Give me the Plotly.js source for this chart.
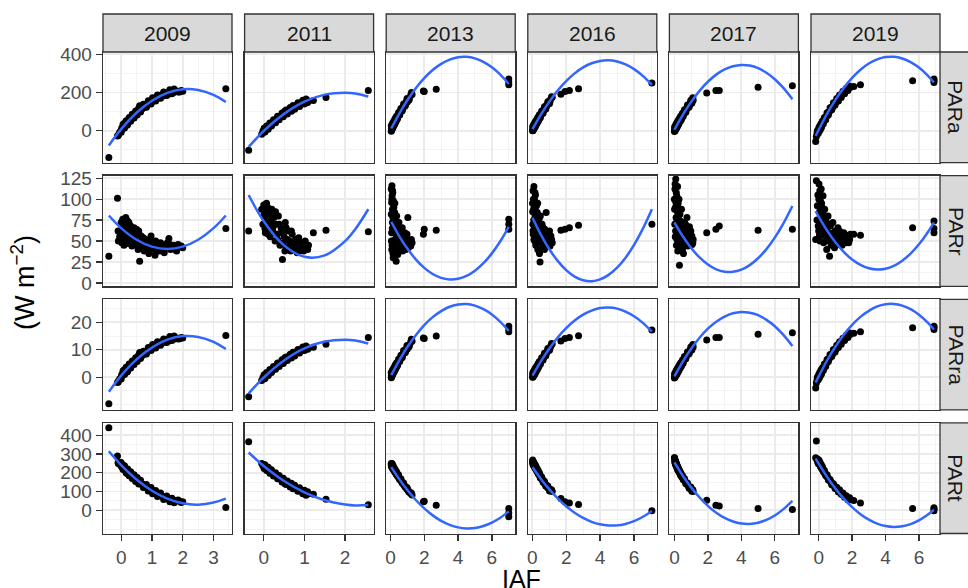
<!DOCTYPE html>
<html>
<head>
<meta charset="utf-8">
<script src="https://cdn.plot.ly/plotly-3.0.1.min.js"></script>
<style>html,body{margin:0;padding:0;background:#fff;}#chart{width:968px;height:588px;}</style>
</head>
<body>
<div id="chart"></div>
<script>
// ---------- categories ----------
const years = ['2009', '2011', '2013', '2016', '2017', '2019'];
const varNames = ['PARa', 'PARr', 'PARra', 'PARt'];

// ---------- observed points (IAF shared across the four variables of a year) ----------
const iaf2009 = [-0.4, -0.12, -0.09, 3.4, -0.1, -0.05, 0, 0.02, 0.03, 0.05, 0.07, 0.08, 0.1, 0.12, 0.13, 0.15, 0.17, 0.18, 0.2, 0.22, 0.23, 0.25, 0.28, 0.3, 0.32, 0.35, 0.38, 0.4, 0.45, 0.48, 0.5, 0.55, 0.58, 0.6, 0.65, 0.68, 0.7, 0.75, 0.78, 0.8, 0.85, 0.9, 0.95, 1.0, 1.05, 1.1, 1.15, 1.2, 1.25, 1.3, 1.35, 1.4, 1.45, 1.5, 1.55, 1.6, 1.7, 1.75, 1.8, 1.9, 2.0,
  0.0, 0.06, 0.11, 0.16, 0.21, 0.26, 0.31, 0.36, 0.42, 0.47, 0.52, 0.57, 0.63, 0.72, 0.82, 0.88, 0.97, 1.02, 1.12, 1.18, 1.28, 1.38, 1.48, 1.58, 1.65, 1.72, 1.85, 1.95, 0.09, 0.19];
const para2009 = [-140, -28, -22, 220, -25, -8, 2, 14, 8, 10, 18, 25, 20, 34, 28, 30, 36, 45, 38, 52, 46, 48, 55, 66, 58, 74, 70, 72, 90, 86, 88, 100, 100, 130, 110, 115, 125, 122, 128, 138, 135, 149, 146, 152, 165, 160, 166, 178, 175, 187, 182, 185, 190, 198, 192, 205, 200, 204, 208, 203, 207,
  -8, 33, 14, 52, 32, 69, 49, 86, 67, 103, 82, 118, 98, 138, 123, 157, 140, 172, 155, 187, 170, 202, 184, 214, 194, 218, 202, 210, 38, 28];
const parr2009 = [32, 101, 50, 65, 62, 55, 72, 48, 64, 76, 50, 60, 68, 52, 70, 78, 62, 58, 66, 47, 58, 72, 66, 55, 62, 44, 52, 60, 50, 46, 64, 40, 58, 26, 56, 50, 45, 38, 46, 52, 42, 35, 44, 50, 40, 33, 40, 46, 38, 42, 45, 36, 42, 48, 53, 40, 45, 40, 38, 44, 42,
  58, 70, 56, 66, 74, 52, 68, 58, 66, 55, 48, 62, 44, 54, 48, 40, 56, 45, 50, 42, 48, 40, 45, 46, 43, 42, 46, 44, 45, 50];
const parra2009 = [-9.7, -1.9, -1.5, 15.2, -1.7, -0.6, 0.1, 1.0, 0.6, 0.7, 1.2, 1.7, 1.4, 2.3, 1.9, 2.1, 2.5, 3.1, 2.6, 3.6, 3.2, 3.3, 3.8, 4.6, 4.0, 5.1, 4.8, 5.0, 6.2, 5.9, 6.1, 6.9, 6.9, 9.0, 7.6, 7.9, 8.6, 8.4, 8.8, 9.5, 9.3, 10.3, 10.1, 10.5, 11.4, 11.0, 11.4, 12.3, 12.1, 12.9, 12.6, 12.8, 13.1, 13.7, 13.2, 14.1, 13.8, 14.1, 14.3, 14.0, 14.3,
  -0.6, 2.3, 1.0, 3.6, 2.2, 4.8, 3.4, 5.9, 4.6, 7.1, 5.7, 8.1, 6.8, 9.5, 8.5, 10.8, 9.7, 11.9, 10.7, 12.9, 11.7, 13.9, 12.7, 14.8, 13.4, 15.0, 13.9, 14.5, 2.6, 1.9];
const part2009 = [440, 290, 250, 15, 255, 245, 238, 232, 240, 228, 233, 222, 226, 216, 221, 212, 216, 206, 210, 200, 206, 196, 198, 188, 192, 181, 183, 174, 172, 163, 165, 153, 155, 147, 145, 137, 139, 128, 130, 122, 121, 112, 110, 102, 100, 92, 90, 84, 82, 76, 74, 70, 66, 64, 60, 58, 54, 52, 50, 48, 46,
  255, 217, 236, 200, 220, 184, 205, 169, 189, 154, 175, 140, 160, 121, 137, 103, 121, 88, 106, 73, 92, 58, 76, 45, 64, 40, 55, 42, 239, 196];

const iaf2011 = [-0.37, 1.22, 1.53, 2.57, -0.05, -0.02, 0, 0.02, 0.04, 0.06, 0.08, 0.1, 0.12, 0.14, 0.16, 0.18, 0.2, 0.22, 0.25, 0.28, 0.3, 0.33, 0.36, 0.4, 0.43, 0.46, 0.5, 0.53, 0.56, 0.6, 0.63, 0.66, 0.7, 0.74, 0.78, 0.82, 0.86, 0.9, 0.94, 0.98, 1.02, 1.06, 1.1,
  0.01, 0.03, 0.07, 0.11, 0.15, 0.19, 0.24, 0.29, 0.34, 0.38, 0.45, 0.48, 0.55, 0.58, 0.65, 0.68, 0.72, 0.76, 0.84, 0.88, 0.96, 1.0, 1.04, 1.08, 0.52];
const para2011 = [-103, 158, 174, 210, -18, -2, -8, 6, 2, 14, 10, 22, 18, 30, 26, 37, 33, 45, 42, 56, 51, 64, 61, 76, 73, 86, 84, 97, 93, 107, 103, 116, 112, 126, 123, 136, 133, 145, 141, 152, 149, 158, 155,
  13, -7, 25, 8, 40, 24, 57, 42, 75, 57, 93, 73, 108, 88, 122, 102, 132, 112, 146, 127, 160, 140, 166, 148, 103];
const parr2011 = [62, 60, 63, 61, 88, 70, 93, 78, 60, 85, 72, 90, 65, 82, 55, 75, 88, 62, 78, 50, 70, 58, 80, 45, 65, 28, 55, 72, 42, 62, 50, 38, 58, 45, 52, 36, 54, 42, 48, 38, 50, 42, 45,
  82, 65, 95, 58, 72, 62, 68, 85, 52, 70, 60, 48, 66, 52, 45, 62, 48, 40, 48, 38, 44, 42, 46, 40, 38];
const parra2011 = [-7.1, 10.9, 12.0, 14.5, -1.2, -0.1, -0.6, 0.4, 0.1, 1.0, 0.7, 1.5, 1.2, 2.1, 1.8, 2.6, 2.3, 3.1, 2.9, 3.9, 3.5, 4.4, 4.2, 5.2, 5.0, 5.9, 5.8, 6.7, 6.4, 7.4, 7.1, 8.0, 7.7, 8.7, 8.5, 9.4, 9.2, 10.0, 9.7, 10.5, 10.3, 10.9, 10.7,
  0.9, -0.5, 1.7, 0.6, 2.8, 1.7, 3.9, 2.9, 5.2, 3.9, 6.4, 5.0, 7.4, 6.1, 8.4, 7.0, 9.1, 7.7, 10.1, 8.8, 11.0, 9.7, 11.4, 10.2, 7.1];
const part2011 = [365, 86, 59, 30, 250, 238, 244, 228, 234, 221, 227, 214, 219, 207, 212, 201, 205, 194, 197, 185, 189, 177, 180, 167, 170, 158, 159, 148, 151, 139, 142, 131, 132, 121, 122, 112, 113, 103, 104, 95, 95, 87, 88,
  223, 243, 212, 229, 198, 216, 183, 200, 168, 186, 151, 171, 137, 156, 124, 144, 115, 134, 101, 120, 88, 107, 80, 99, 141];

const iaf2013 = [1.03, 0.34, 1.95, 2.0, 2.71, 7.0, 7.0, 7.0, 0.05, 0.06, 0.07, 0.08, 0.09, 0.1, 0.11, 0.12, 0.14, 0.15, 0.16, 0.17, 0.19, 0.2, 0.22, 0.24, 0.25, 0.27, 0.3, 0.33, 0.35, 0.38, 0.4, 0.43, 0.46, 0.5, 0.53, 0.56, 0.6, 0.64, 0.68, 0.72, 0.76, 0.8, 0.85, 0.9, 0.95, 1.0, 1.06, 1.12, 1.2, 1.28,
  0.05, 0.07, 0.09, 0.1, 0.12, 0.13, 0.15, 0.18, 0.2, 0.23, 0.26, 0.28, 0.31, 0.34, 0.37, 0.42, 0.48, 0.55, 0.62, 0.7, 0.78, 0.88, 0.98, 1.1, 1.24];
const para2013 = [158, 60, 208, 205, 217, 270, 255, 240, -3, 10, 15, 18, 12, 24, 22, 20, 30, 25, 33, 36, 32, 42, 38, 44, 50, 46, 58, 55, 66, 62, 74, 70, 80, 84, 94, 90, 104, 102, 116, 114, 128, 126, 140, 138, 154, 150, 166, 168, 185, 190,
  24, 3, 31, 8, 36, 14, 41, 22, 49, 30, 60, 39, 68, 49, 77, 62, 95, 82, 116, 105, 140, 131, 168, 161, 200];
const parr2013 = [78, 26, 58, 64, 63, 76, 70, 64, 112, 50, 96, 40, 116, 104, 65, 88, 108, 78, 30, 98, 70, 90, 60, 36, 84, 52, 75, 46, 68, 40, 62, 34, 56, 72, 48, 64, 42, 58, 50, 38, 55, 45, 60, 40, 52, 46, 42, 50, 44, 48,
  82, 60, 100, 45, 72, 110, 35, 62, 80, 48, 95, 66, 42, 58, 80, 50, 64, 38, 52, 66, 48, 54, 58, 44, 52];
const parra2013 = [10.9, 4.1, 14.3, 14.1, 15.0, 18.6, 17.6, 16.6, -0.2, 0.7, 1.0, 1.2, 0.8, 1.7, 1.5, 1.4, 2.1, 1.7, 2.3, 2.5, 2.2, 2.9, 2.6, 3.0, 3.4, 3.2, 4.0, 3.8, 4.6, 4.3, 5.1, 4.8, 5.5, 5.8, 6.5, 6.2, 7.2, 7.0, 8.0, 7.9, 8.8, 8.7, 9.7, 9.5, 10.6, 10.3, 11.4, 11.6, 12.8, 13.1,
  1.7, 0.2, 2.1, 0.6, 2.5, 1.0, 2.8, 1.5, 3.4, 2.1, 4.1, 2.7, 4.7, 3.4, 5.3, 4.3, 6.6, 5.7, 8.0, 7.2, 9.7, 9.0, 11.6, 11.1, 13.8];
const part2013 = [108, 195, 46, 48, 27, 9, -14, -35, 250, 238, 245, 232, 240, 236, 228, 234, 226, 232, 222, 226, 218, 222, 212, 215, 208, 210, 203, 196, 198, 190, 188, 182, 180, 174, 168, 166, 160, 156, 150, 146, 140, 136, 128, 124, 116, 112, 104, 98, 90, 82,
  240, 233, 250, 228, 244, 224, 238, 216, 230, 210, 220, 204, 212, 194, 204, 184, 190, 166, 168, 146, 146, 124, 122, 98, 92];

const iaf2016 = [1.69, 1.93, 2.19, 2.73, 7.05, 0.02, 0.04, 0.05, 0.06, 0.08, 0.1, 0.11, 0.13, 0.15, 0.17, 0.19, 0.21, 0.23, 0.25, 0.28, 0.3, 0.33, 0.36, 0.4, 0.43, 0.46, 0.5, 0.54, 0.58, 0.62, 0.66, 0.7, 0.74, 0.78, 0.82, 0.86, 0.9, 0.95, 1.0, 1.05, 1.1, 1.18,
  0.03, 0.05, 0.07, 0.09, 0.1, 0.12, 0.14, 0.16, 0.18, 0.2, 0.22, 0.26, 0.29, 0.32, 0.35, 0.38, 0.42, 0.48, 0.56, 0.64, 0.72, 0.8, 0.92, 1.02, 1.14];
const para2016 = [191, 205, 210, 219, 250, 0, 12, 6, 18, 14, 24, 18, 30, 25, 36, 31, 42, 38, 48, 46, 56, 54, 65, 64, 76, 72, 86, 85, 98, 96, 109, 108, 120, 118, 131, 129, 141, 140, 154, 153, 167, 175,
  22, 1, 28, 8, 33, 13, 40, 19, 46, 25, 52, 35, 63, 44, 72, 53, 83, 68, 103, 91, 126, 113, 152, 142, 178];
const parr2016 = [63, 64, 66, 69, 70, 95, 70, 110, 58, 88, 115, 64, 100, 50, 80, 105, 45, 72, 92, 55, 84, 40, 68, 76, 35, 25, 62, 50, 70, 44, 58, 52, 64, 46, 84, 55, 48, 60, 50, 44, 56, 48,
  85, 62, 100, 75, 52, 92, 68, 108, 58, 86, 65, 78, 48, 95, 60, 72, 52, 80, 56, 66, 40, 60, 54, 62, 52];
const parra2016 = [13.2, 14.1, 14.5, 15.1, 17.2, 0, 0.8, 0.4, 1.2, 1.0, 1.7, 1.2, 2.1, 1.7, 2.5, 2.1, 2.9, 2.6, 3.3, 3.2, 3.9, 3.7, 4.5, 4.4, 5.2, 5.0, 5.9, 5.9, 6.8, 6.6, 7.5, 7.4, 8.3, 8.1, 9.0, 8.9, 9.7, 9.7, 10.6, 10.6, 11.5, 12.1,
  1.5, 0.1, 1.9, 0.6, 2.3, 0.9, 2.8, 1.3, 3.2, 1.7, 3.6, 2.4, 4.3, 3.0, 5.0, 3.7, 5.7, 4.7, 7.1, 6.3, 8.7, 7.8, 10.5, 9.8, 12.3];
const part2016 = [63, 45, 39, 31, -3, 262, 250, 256, 244, 250, 238, 246, 234, 240, 228, 234, 222, 228, 216, 218, 208, 210, 198, 196, 186, 188, 176, 174, 164, 163, 152, 150, 142, 140, 132, 130, 122, 120, 112, 112, 104, 100,
  268, 247, 259, 239, 252, 233, 246, 227, 241, 222, 234, 211, 222, 201, 212, 191, 200, 172, 177, 150, 155, 130, 130, 103, 110];

const iaf2017 = [1.93, 2.48, 2.68, 5.0, 7.05, 0, 0.02, 0.03, 0.05, 0.06, 0.08, 0.1, 0.12, 0.14, 0.16, 0.18, 0.2, 0.22, 0.25, 0.28, 0.3, 0.33, 0.36, 0.4, 0.43, 0.46, 0.5, 0.54, 0.58, 0.62, 0.66, 0.7, 0.75, 0.8, 0.85, 0.9, 0.95, 1.0, 1.06, 1.12,
  0.01, 0.04, 0.07, 0.09, 0.11, 0.13, 0.15, 0.17, 0.19, 0.21, 0.24, 0.27, 0.31, 0.35, 0.38, 0.42, 0.48, 0.52, 0.6, 0.68, 0.78, 0.88, 0.98, 1.04, 1.1];
const para2017 = [197, 210, 210, 228, 235, -4, 6, 2, 14, 10, 20, 16, 27, 23, 33, 30, 40, 36, 48, 46, 56, 53, 65, 64, 76, 73, 86, 85, 97, 96, 108, 107, 121, 120, 134, 133, 146, 146, 158, 160,
  19, 0, 28, 8, 35, 14, 42, 21, 48, 27, 56, 36, 67, 49, 77, 59, 92, 74, 110, 97, 134, 124, 160, 144, 172];
const parr2017 = [60, 64, 68, 63, 64, 100, 70, 112, 55, 90, 124, 78, 45, 104, 62, 85, 38, 95, 68, 50, 21, 82, 58, 42, 72, 54, 65, 35, 60, 48, 70, 52, 78, 44, 58, 67, 50, 55, 46, 52,
  88, 118, 62, 96, 108, 72, 52, 90, 115, 60, 80, 100, 48, 74, 62, 88, 40, 58, 72, 45, 62, 55, 62, 56, 48];
const parra2017 = [13.6, 14.5, 14.5, 15.7, 16.2, -0.3, 0.4, 0.1, 1.0, 0.7, 1.4, 1.1, 1.9, 1.6, 2.3, 2.1, 2.8, 2.5, 3.3, 3.2, 3.9, 3.7, 4.5, 4.4, 5.2, 5.0, 5.9, 5.9, 6.7, 6.6, 7.4, 7.4, 8.3, 8.3, 9.2, 9.2, 10.1, 10.1, 10.9, 11.0,
  1.3, 0.0, 1.9, 0.6, 2.4, 1.0, 2.9, 1.4, 3.3, 1.9, 3.9, 2.5, 4.6, 3.4, 5.3, 4.1, 6.3, 5.1, 7.6, 6.7, 9.2, 8.6, 11.0, 9.9, 11.9];
const part2017 = [54, 27, 23, 9, 4, 280, 262, 270, 250, 262, 242, 252, 236, 240, 228, 232, 220, 224, 212, 210, 204, 200, 194, 188, 184, 178, 174, 167, 164, 156, 152, 146, 140, 134, 128, 122, 116, 112, 106, 100,
  280, 254, 263, 242, 252, 232, 242, 222, 234, 214, 224, 204, 212, 190, 200, 180, 186, 164, 170, 142, 146, 118, 124, 102, 110];

const iaf2019 = [-0.18, -0.14, 2.1, 2.5, 5.62, 6.9, 6.9, 6.9, -0.1, -0.05, 0, 0.02, 0.05, 0.08, 0.1, 0.12, 0.15, 0.18, 0.2, 0.23, 0.26, 0.3, 0.33, 0.36, 0.4, 0.44, 0.48, 0.52, 0.56, 0.6, 0.65, 0.7, 0.75, 0.8, 0.85, 0.9, 0.95, 1.0, 1.05, 1.1, 1.15, 1.2, 1.3, 1.4, 1.5, 1.6, 1.7, 1.8, 1.9,
  -0.08, -0.03, 0.01, 0.04, 0.07, 0.11, 0.14, 0.17, 0.22, 0.28, 0.34, 0.42, 0.5, 0.58, 0.68, 0.78, 0.88, 0.98, 1.08, 1.18, 1.25, 1.35, 1.45, 1.55, 1.65, 1.75, 1.85];
const para2019 = [-56, -30, 232, 240, 261, 270, 262, 252, -15, -5, 2, 10, 6, 18, 14, 26, 24, 36, 33, 44, 44, 56, 54, 65, 64, 76, 76, 88, 86, 98, 100, 112, 112, 125, 124, 136, 136, 148, 150, 160, 162, 172, 180, 192, 200, 210, 215, 224, 228,
  0, -15, 16, -3, 26, 8, 37, 18, 50, 36, 69, 57, 94, 82, 120, 110, 146, 134, 169, 156, 187, 174, 206, 194, 222, 210, 234];
const parr2019 = [52, 122, 58, 57, 66, 74, 65, 60, 75, 105, 62, 118, 85, 50, 98, 70, 112, 58, 90, 78, 104, 48, 66, 88, 56, 74, 40, 62, 80, 50, 32, 68, 45, 58, 72, 52, 42, 62, 55, 48, 66, 52, 58, 45, 60, 50, 56, 48, 58,
  92, 68, 100, 56, 110, 82, 64, 95, 70, 82, 60, 78, 52, 70, 58, 50, 60, 52, 58, 46, 62, 52, 55, 58, 48, 55, 52];
const parra2019 = [-3.9, -2.1, 16.0, 16.6, 18.0, 18.6, 18.1, 17.4, -1.0, -0.3, 0.1, 0.7, 0.4, 1.2, 1.0, 1.8, 1.7, 2.5, 2.3, 3.0, 3.0, 3.9, 3.7, 4.5, 4.4, 5.2, 5.2, 6.1, 5.9, 6.8, 6.9, 7.7, 7.7, 8.6, 8.6, 9.4, 9.4, 10.2, 10.3, 11.0, 11.2, 11.9, 12.4, 13.2, 13.8, 14.5, 14.8, 15.4, 15.7,
  0, -1.0, 1.1, -0.2, 1.8, 0.6, 2.6, 1.2, 3.4, 2.5, 4.8, 3.9, 6.5, 5.7, 8.3, 7.6, 10.1, 9.2, 11.7, 10.8, 12.9, 12.0, 14.2, 13.4, 15.3, 14.5, 16.1];
const part2019 = [280, 370, 52, 39, 9, 14, 5, -2, 268, 258, 264, 250, 255, 240, 246, 232, 236, 224, 228, 216, 218, 206, 206, 196, 196, 186, 184, 176, 174, 166, 162, 154, 150, 142, 140, 132, 130, 122, 120, 112, 110, 104, 96, 86, 80, 72, 66, 60, 56,
  274, 250, 268, 247, 258, 235, 246, 225, 233, 207, 213, 185, 189, 161, 164, 136, 142, 116, 123, 98, 109, 85, 92, 69, 78, 56, 67];

// ---------- fitted quadratic curves ----------
const fitX2009 = [-0.4, 0, 0.5, 1, 1.5, 2, 2.5, 3, 3.4];
const fitPARa2009 = [-77, 8, 94, 157, 198, 217, 213, 187, 150];
const fitPARr2009 = [80.5, 65.4, 51.6, 43.3, 40.5, 43.3, 51.6, 65.4, 80.5];
const fitPARra2009 = [-5.3, 0.6, 6.5, 10.8, 13.7, 15.0, 14.7, 12.9, 10.3];
const fitPARt2009 = [315, 241, 164, 104, 62, 37, 30, 41, 62];

const fitX2011 = [-0.37, 0, 0.5, 1, 1.5, 2, 2.25, 2.57];
const fitPARa2011 = [-85, -1.5, 88, 152, 189, 199, 195, 179];
const fitPARr2011 = [105, 73.7, 44.8, 31.2, 32.9, 49.9, 64.2, 88];
const fitPARra2011 = [-5.9, -0.1, 6.1, 10.5, 13.0, 13.7, 13.4, 12.3];
const fitPARt2011 = [308, 236, 156, 95, 53, 31, 26, 28];

const fitX2013 = [0.05, 0.5, 1, 1.5, 2, 2.5, 3, 3.5, 4, 4.5, 5, 5.5, 6, 6.5, 7];
const fitPARa2013 = [11.7, 86, 159.2, 222.2, 274.9, 317.5, 350, 372.4, 384.5, 386.5, 378.4, 360.2, 331.7, 293.2, 244.4];
const fitPARr2013 = [73, 56.6, 41, 28.2, 18, 10.7, 6, 4.1, 4.9, 8.4, 14.6, 23.6, 35.3, 49.8, 67];
const fitPARra2013 = [0.8, 5.9, 11.0, 15.3, 19.0, 21.9, 24.1, 25.7, 26.5, 26.7, 26.1, 24.8, 22.9, 20.2, 16.9];
const fitPARt2013 = [230, 168.6, 107.8, 54.8, 9.8, -27.3, -56.6, -77.9, -91.3, -96.8, -94.5, -84.2, -66, -40, -6];

const fitX2016 = [0.02, 0.5, 1, 1.5, 2, 2.5, 3, 3.5, 4, 4.5, 5, 5.5, 6, 6.5, 7.05];
const fitPARa2016 = [8.3, 82.6, 150.9, 209.9, 259.6, 300, 331.1, 352.9, 365.4, 368.6, 362.5, 347.1, 322.4, 288.4, 240.2];
const fitPARr2016 = [77.9, 58, 40.5, 26.3, 15.3, 7.6, 3.2, 2.0, 4.2, 9.6, 18.2, 30.2, 45.4, 63.9, 88];
const fitPARra2016 = [0.6, 5.7, 10.4, 14.5, 17.9, 20.7, 22.8, 24.3, 25.2, 25.4, 25.0, 23.9, 22.2, 19.9, 16.6];
const fitPARt2016 = [229, 168.5, 112.4, 63.4, 21.5, -13.3, -41, -61.6, -75, -81.4, -80.7, -72.9, -58, -36, -3.6];

const fitX2017 = [0, 0.5, 1, 1.5, 2, 2.5, 3, 3.5, 4, 4.5, 5, 5.5, 6, 6.5, 7.05];
const fitPARa2017 = [5, 83.1, 151, 208.7, 256.2, 293.6, 320.7, 337.6, 344.4, 340.9, 327.2, 303.4, 269.4, 225.1, 164.7];
const fitPARr2017 = [72.4, 55.7, 41.7, 30.5, 22, 16.3, 13.4, 13.3, 15.9, 21.3, 29.5, 40.4, 54.1, 70.5, 91.8];
const fitPARra2017 = [0.3, 5.7, 10.4, 14.4, 17.7, 20.2, 22.1, 23.3, 23.8, 23.5, 22.6, 20.9, 18.6, 15.5, 11.4];
const fitPARt2017 = [255, 184.2, 122, 68.4, 23.3, -13.1, -41, -60.2, -70.9, -73, -66.5, -51.4, -27.7, 4.6, 50];

const fitX2019 = [-0.18, 0, 0.5, 1, 1.5, 2, 2.5, 3, 3.5, 4, 4.5, 5, 5.5, 6, 6.5, 6.9];
const fitPARa2019 = [-27.5, 5, 88.3, 161.4, 224.2, 276.9, 319.3, 351.5, 373.5, 385.3, 386.9, 378.2, 359.4, 330.3, 291, 252.2];
const fitPARr2019 = [85.7, 79.1, 62.6, 48.6, 37, 28, 21.5, 17.5, 16, 17, 20.5, 26.6, 35.1, 46.1, 59.7, 72.4];
const fitPARra2019 = [-1.9, 0.3, 6.1, 11.1, 15.5, 19.1, 22.0, 24.2, 25.8, 26.6, 26.7, 26.1, 24.8, 22.8, 20.1, 17.4];
const fitPARt2019 = [276, 248.7, 178.3, 116.1, 62.2, 16.4, -21.1, -50.4, -71.5, -84.4, -89.1, -85.5, -73.8, -53.8, -25.6, 2.8];

// ---------- tick labels ----------
const xTicks = [[0, 1, 2, 3], [0, 1, 2], [0, 2, 4, 6], [0, 2, 4, 6], [0, 2, 4, 6], [0, 2, 4, 6]];
const yTicks = [[0, 200, 400], [0, 25, 50, 75, 100, 125], [0, 10, 20], [0, 100, 200, 300, 400]];

// ---------- assemble ----------
const ptsX = [iaf2009, iaf2011, iaf2013, iaf2016, iaf2017, iaf2019];
const ptsY = [
  [para2009, para2011, para2013, para2016, para2017, para2019],
  [parr2009, parr2011, parr2013, parr2016, parr2017, parr2019],
  [parra2009, parra2011, parra2013, parra2016, parra2017, parra2019],
  [part2009, part2011, part2013, part2016, part2017, part2019]
];
const fitX = [fitX2009, fitX2011, fitX2013, fitX2016, fitX2017, fitX2019];
const fitY = [
  [fitPARa2009, fitPARa2011, fitPARa2013, fitPARa2016, fitPARa2017, fitPARa2019],
  [fitPARr2009, fitPARr2011, fitPARr2013, fitPARr2016, fitPARr2017, fitPARr2019],
  [fitPARra2009, fitPARra2011, fitPARra2013, fitPARra2016, fitPARra2017, fitPARra2019],
  [fitPARt2009, fitPARt2011, fitPARt2013, fitPARt2016, fitPARt2017, fitPARt2019]
];

const W = 968, H = 588;
const colLeft = [103, 244.6, 386.2, 527.8, 669.4, 811], colW = 129;
const rowTop = [52, 175.7, 299.3, 422.9], rowH = 110.6;
const xRanges = [[-0.59, 3.6], [-0.47, 2.70], [-0.25, 7.38], [-0.26, 7.34], [-0.30, 7.41], [-0.46, 7.26]];
const yRanges = [[-167, 412], [-4, 128], [-11.9, 28.4], [-124, 466]];
const xMinor = [[-0.5, 0.5, 1.5, 2.5, 3.5], [0.5, 1.5, 2.5], [1, 3, 5, 7], [1, 3, 5, 7], [1, 3, 5, 7], [1, 3, 5, 7]];
const yMinor = [[-100, 100, 300], [12.5, 37.5, 62.5, 87.5, 112.5], [-10, -5, 5, 15, 25], [-100, -50, 50, 150, 250, 350, 450]];

const FONT = 'Liberation Sans, Arial, Helvetica, sans-serif';
const traces = [];
const layout = {
  width: W, height: H,
  margin: {l: 0, r: 0, t: 0, b: 0, pad: 0},
  paper_bgcolor: '#ffffff', plot_bgcolor: '#ffffff',
  showlegend: false,
  font: {family: FONT},
  shapes: [], annotations: []
};

for (let r = 0; r < 4; r++) {
  for (let c = 0; c < 6; c++) {
    const k = r * 6 + c + 1;
    const xs = k === 1 ? 'x' : 'x' + k;
    const ys = k === 1 ? 'y' : 'y' + k;
    traces.push({
      type: 'scatter', mode: 'markers', x: ptsX[c], y: ptsY[r][c], xaxis: xs, yaxis: ys,
      marker: {color: '#000000', size: 7}, hoverinfo: 'skip'
    });
    traces.push({
      type: 'scatter', mode: 'lines', x: fitX[c], y: fitY[r][c], xaxis: xs, yaxis: ys,
      line: {color: '#3366FF', width: 2.5, shape: 'spline', smoothing: 1}, hoverinfo: 'skip'
    });
    const x0 = colLeft[c] / W, x1 = (colLeft[c] + colW) / W;
    const y1 = 1 - rowTop[r] / H, y0 = 1 - (rowTop[r] + rowH) / H;
    const bottom = r === 3, left = c === 0;
    layout[k === 1 ? 'xaxis' : 'xaxis' + k] = {
      domain: [x0, x1], anchor: ys, range: xRanges[c], fixedrange: true,
      tickmode: 'array', tickvals: xTicks[c], ticktext: xTicks[c].map(String),
      showticklabels: bottom, ticks: bottom ? 'outside' : '', ticklen: 6, tickwidth: 1.3, tickcolor: '#333333',
      tickfont: {family: FONT, size: 19, color: '#4D4D4D'},
      showgrid: true, gridcolor: '#EBEBEB', gridwidth: 1.8, zeroline: false,
      minor: {tickmode: 'array', tickvals: xMinor[c], showgrid: true, gridcolor: '#F2F2F2', gridwidth: 0.9, ticks: ''},
      showline: true, mirror: true, linecolor: '#333333', linewidth: 1.3
    };
    layout[k === 1 ? 'yaxis' : 'yaxis' + k] = {
      domain: [y0, y1], anchor: xs, range: yRanges[r], fixedrange: true,
      tickmode: 'array', tickvals: yTicks[r], ticktext: yTicks[r].map(String),
      showticklabels: left, ticks: left ? 'outside' : '', ticklen: 6, tickwidth: 1.3, tickcolor: '#333333',
      tickfont: {family: FONT, size: 19, color: '#4D4D4D'},
      showgrid: true, gridcolor: '#EBEBEB', gridwidth: 1.8, zeroline: false,
      minor: {tickmode: 'array', tickvals: yMinor[r], showgrid: true, gridcolor: '#F2F2F2', gridwidth: 0.9, ticks: ''},
      showline: true, mirror: true, linecolor: '#333333', linewidth: 1.3
    };
  }
}

// top strips (years)
for (let c = 0; c < 6; c++) {
  const x0 = colLeft[c] / W, x1 = (colLeft[c] + colW) / W;
  layout.shapes.push({type: 'rect', xref: 'paper', yref: 'paper', x0: x0, x1: x1,
    y0: 1 - rowTop[0] / H, y1: 1 - 14 / H, fillcolor: '#D9D9D9', line: {color: '#333333', width: 1.3}, layer: 'above'});
  layout.annotations.push({xref: 'paper', yref: 'paper', x: (x0 + x1) / 2, y: 1 - 33 / H,
    text: years[c], showarrow: false, xanchor: 'center', yanchor: 'middle',
    font: {family: FONT, size: 21, color: '#1A1A1A'}});
}
// right strips (variables)
for (let r = 0; r < 4; r++) {
  const y1 = 1 - rowTop[r] / H, y0 = 1 - (rowTop[r] + rowH) / H;
  layout.shapes.push({type: 'rect', xref: 'paper', yref: 'paper', x0: 940 / W, x1: 980 / W,
    y0: y0, y1: y1, fillcolor: '#D9D9D9', line: {color: '#333333', width: 1.3}, layer: 'above'});
  layout.annotations.push({xref: 'paper', yref: 'paper', x: 956 / W, y: (y0 + y1) / 2,
    text: varNames[r], showarrow: false, textangle: 90, xanchor: 'center', yanchor: 'middle',
    font: {family: FONT, size: 21, color: '#1A1A1A'}});
}
// axis titles
layout.annotations.push({xref: 'paper', yref: 'paper', x: 521.5 / W, y: 1 - 579 / H,
  text: 'IAF', showarrow: false, xanchor: 'center', yanchor: 'middle',
  font: {family: FONT, size: 25, color: '#000000'}});
layout.annotations.push({xref: 'paper', yref: 'paper', x: 23 / W, y: 1 - 283 / H,
  text: '(W m<sup>−2</sup>)', showarrow: false, textangle: -90, xanchor: 'center', yanchor: 'middle',
  font: {family: FONT, size: 27, color: '#000000'}});

Plotly.newPlot('chart', traces, layout, {displayModeBar: false, staticPlot: true});
</script>
</body>
</html>
